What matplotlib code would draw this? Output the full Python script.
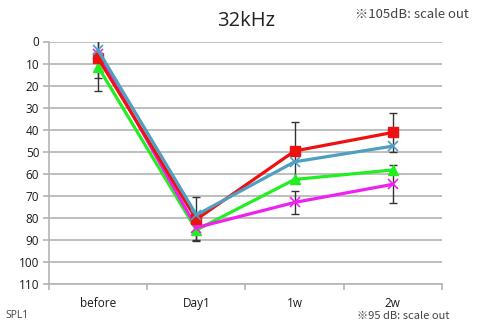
import matplotlib
matplotlib.use("Agg")
import matplotlib.pyplot as plt
import numpy as np

plt.rcParams['font.family'] = ['Open Sans', 'DejaVu Sans']

categories = ["before", "Day1", "1w", "2w"]
red_vals = [7.6, 80.6, 49.6, 41.2]
blue_vals = [4.0, 78.6, 54.5, 47.4]
green_vals = [11.5, 85.4, 62.5, 58.2]
magenta_vals = [5.5, 84.3, 72.9, 64.7]
red_err = [9.0, 10.0, 13.0, 8.7]
magenta_err = [17.0, 5.5, 5.3, 8.6]
yticks = list(range(0, 111, 10))

fig = plt.figure(figsize=(4.81, 3.22), dpi=100)
ax = fig.add_axes([49/481, 1-284.3/322, (442-49)/481, (284.3-41.5)/322])

x = np.arange(len(categories))
grid_c = "#b4b4b4"

ax.errorbar(x, red_vals, yerr=red_err, fmt='none', ecolor='#333333', elinewidth=1.0,
            capsize=3, capthick=1.0, zorder=2)
ax.errorbar(x, magenta_vals, yerr=magenta_err, fmt='none', ecolor='#333333', elinewidth=1.0,
            capsize=3, capthick=1.0, zorder=2)

ax.plot(x, green_vals, color='#22ee22', lw=2.3, marker='^', ms=6.5, zorder=3)
ax.plot(x, magenta_vals, color='#ee22ee', lw=2.3, marker='x', ms=7, mew=1.2, zorder=4)
ax.plot(x, red_vals, color='#ee1111', lw=2.3, marker='s', ms=7.5, zorder=5)
ax.plot(x, blue_vals, color='#4f9fc0', lw=2.3, marker='x', ms=7, mew=1.2, zorder=6)

ax.set_xlim(-0.5, len(categories) - 0.5)
ax.set_ylim(110, 0)
ax.set_yticks(yticks)
ax.set_yticklabels([str(v) for v in yticks])
ax.set_xticks(x)
ax.set_xticklabels(categories)
ax.set_xticks(np.arange(-0.5, len(categories), 1.0), minor=True)

for v in yticks:
    ax.axhline(v, color=grid_c, lw=1.2, zorder=1)

for s in ['top', 'right']:
    ax.spines[s].set_visible(False)
ax.spines['left'].set_color(grid_c)
ax.spines['bottom'].set_color(grid_c)
ax.spines['left'].set_linewidth(1.2)
ax.spines['bottom'].set_linewidth(1.2)

ax.tick_params(axis='y', which='major', length=4, color=grid_c, width=1.2,
               labelsize=8.5, labelcolor='#1a1a1a', pad=3)
ax.tick_params(axis='x', which='major', length=0, labelsize=8.5,
               labelcolor='#1a1a1a', pad=9)
ax.tick_params(axis='x', which='minor', length=4, color=grid_c, width=1.2)

fig.text(246/481, 1-21/322, "32kHz", ha='center', va='center', fontsize=14.5, color='#222222')
fig.text(355/481, 1-17.5/322, "※105dB: scale out", ha='left', va='baseline',
         fontsize=9.5, color='#444444', family=['Noto Sans CJK JP', 'DejaVu Sans'])
fig.text(5/481, 1-321/322, "SPL1", ha='left', va='bottom', fontsize=7.5, color='#444444')
fig.text(357/481, 1-321/322, "※95 dB: scale out", ha='left', va='bottom',
         fontsize=8, color='#444444', family=['Noto Sans CJK JP', 'DejaVu Sans'])

fig.savefig("out.png", dpi=100)
